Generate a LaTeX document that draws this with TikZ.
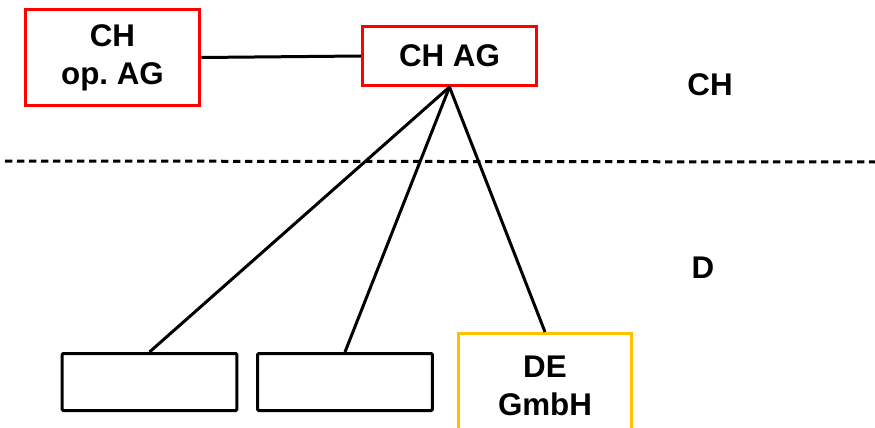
\documentclass[tikz,border=0pt]{standalone}
\usepackage{fontspec}
\setmainfont{Liberation Sans}
\begin{document}
\begin{tikzpicture}[x=0.75pt,y=-0.75pt]
		% Styles
		\tikzstyle{redbox} = [rectangle, minimum width=131pt, text centered, align=center, draw=red, line width=2.25pt, font=\bfseries\fontsize{23.5}{28.5}\selectfont]
		\tikzstyle{emptybox} = [rectangle, minimum width=131pt, minimum height=42.75pt, draw=black, line width=2.25pt, rounded corners=0.75pt]
		\tikzstyle{yellowbox} = [rectangle, minimum width=130pt, minimum height=78.75pt, text centered, align=center, draw={rgb,255:red,255;green,192;blue,0}, line width=2.25pt, font=\bfseries\fontsize{23.5}{28.5}\selectfont]
		\tikzstyle{country} = [font=\bfseries\fontsize{23.5}{28.5}\selectfont]
		\tikzstyle{link} = [line width=2.25pt]
		\useasboundingbox (0,0) rectangle (875,428);
		% Nodes
		\node (chop) [redbox, minimum height=72pt] at (112.5,57.5) {CH\\op.\ AG};
		\node (chag) [redbox, minimum height=44.25pt, minimum width=130.5pt] at (449.5,56) {CH AG};
		\node (sub1) [emptybox] at (149.5,382) {};
		\node (sub2) [emptybox] at (345,382) {};
		\node (degmbh) [yellowbox] at (545,386) {DE\\GmbH};
		\node (lblch) [country] at (710,85) {CH};
		\node (lbld) [country] at (703,268) {D};
		% Border
		\draw [line width=2.25pt, dash pattern=on 5.5pt off 3.5pt] (5,161) -- (875,162);
		% Lines
		\draw [link] (chop.east) -- (chag.west);
		\draw [link] (chag.south) -- (sub1.north);
		\draw [link] (chag.south) -- (sub2.north);
		\draw [link] (chag.south) -- (degmbh.north);
	\end{tikzpicture}
\end{document}
